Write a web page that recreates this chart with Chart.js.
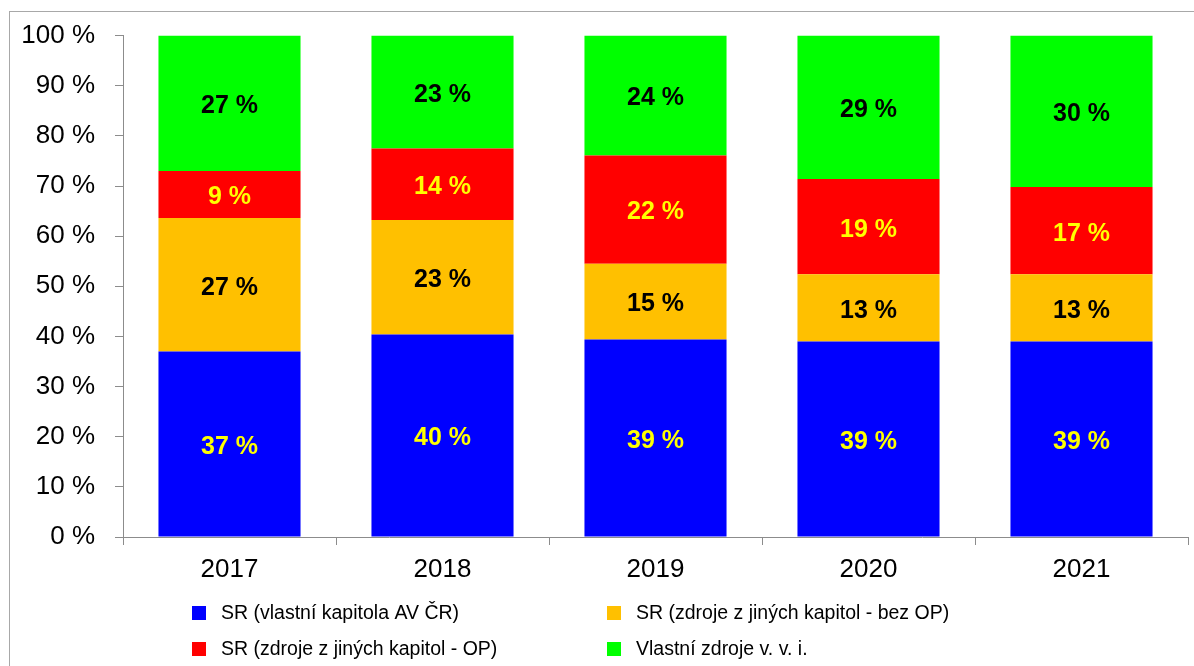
<!DOCTYPE html>
<html>
<head>
<meta charset="utf-8">
<script src="https://cdn.jsdelivr.net/npm/chart.js@4.4.1/dist/chart.umd.min.js"></script>
<style>
  html, body { margin: 0; padding: 0; background: #fff; }
  #wrap { width: 1194px; height: 666px; }
</style>
</head>
<body>
<div id="wrap"><canvas id="graf" width="1194" height="666"></canvas></div>
<script>
// data
const roky = ["2017", "2018", "2019", "2020", "2021"];
const srVlastniKapitola = [37.0, 40.4, 39.4, 39.0, 39.0];
const srJineBezOP = [26.6, 22.8, 15.1, 13.4, 13.4];
const srJineOP = [9.4, 14.3, 21.6, 19.0, 17.4];
const vlastniZdroje = [27.0, 22.5, 23.9, 28.6, 30.2];

const nazvy = [
  "SR (vlastní kapitola AV ČR)",
  "SR (zdroje z jiných kapitol - bez OP)",
  "SR (zdroje z jiných kapitol - OP)",
  "Vlastní zdroje v. v. i."
];
const barvy = ["#0000ff", "#ffc000", "#ff0000", "#00ff00"];
const barvyPopisku = ["#ffff00", "#000000", "#ffff00", "#000000"];

const FONT = "'Liberation Sans', Arial, sans-serif";
const osa = "#8c8c8c";

// ramecek kolem grafu
const ramecek = {
  id: "ramecek",
  beforeDraw(chart) {
    const c = chart.ctx;
    c.save();
    c.strokeStyle = "#a8a8a8";
    c.lineWidth = 1;
    c.strokeRect(9.5, 11.5, 1220, 700);
    c.restore();
  }
};

// popisky hodnot v segmentech
const popisky = {
  id: "popisky",
  afterDatasetsDraw(chart) {
    const c = chart.ctx;
    c.save();
    c.font = "bold 25px " + FONT;
    c.textAlign = "center";
    c.textBaseline = "middle";
    chart.data.datasets.forEach((ds, i) => {
      const meta = chart.getDatasetMeta(i);
      meta.data.forEach((bar, j) => {
        const p = bar.getProps(["x", "y", "base"], true);
        c.fillStyle = barvyPopisku[i];
        c.fillText(Math.round(ds.data[j]) + " %", p.x, (p.y + p.base) / 2 + 3);
      });
    });
    c.restore();
  }
};

// legenda ve dvou sloupcich
const legenda = {
  id: "legenda",
  afterDraw(chart) {
    const c = chart.ctx;
    const sloupce = [192, 607];
    const radky = [613, 649];
    c.save();
    c.font = "19.5px " + FONT;
    c.textBaseline = "middle";
    c.textAlign = "left";
    chart.data.datasets.forEach((ds, i) => {
      const x = sloupce[i % 2];
      const y = radky[Math.floor(i / 2)];
      c.fillStyle = ds.backgroundColor;
      c.fillRect(x, y - 7, 14, 14);
      c.fillStyle = "#000";
      c.fillText(ds.label, x + 29, y + 1);
    });
    c.restore();
  }
};

const serie = [srVlastniKapitola, srJineBezOP, srJineOP, vlastniZdroje];

new Chart(document.getElementById("graf").getContext("2d"), {
  type: "bar",
  data: {
    labels: roky,
    datasets: serie.map((d, i) => ({
      label: nazvy[i],
      data: d,
      backgroundColor: barvy[i],
      borderWidth: 0,
      barPercentage: 0.667,
      categoryPercentage: 1
    }))
  },
  options: {
    responsive: false,
    animation: false,
    layout: { padding: { top: 34, right: 6, bottom: 79, left: 0 } },
    plugins: {
      legend: { display: false },
      tooltip: { enabled: false }
    },
    scales: {
      x: {
        stacked: true,
        grid: { drawOnChartArea: false, tickLength: 8, color: osa },
        border: { color: osa },
        ticks: { color: "#000", font: { family: FONT, size: 26 }, padding: 9 },
        afterFit: s => { s.height = 50; }
      },
      y: {
        stacked: true,
        min: 0,
        max: 100,
        grid: { drawOnChartArea: false, tickLength: 8, color: osa },
        border: { color: osa },
        ticks: {
          stepSize: 10,
          color: "#000",
          font: { family: FONT, size: 26 },
          padding: 20,
          callback: v => v + " %"
        },
        afterFit: s => { s.width = 123; }
      }
    }
  },
  plugins: [ramecek, popisky, legenda]
});
</script>
</body>
</html>
